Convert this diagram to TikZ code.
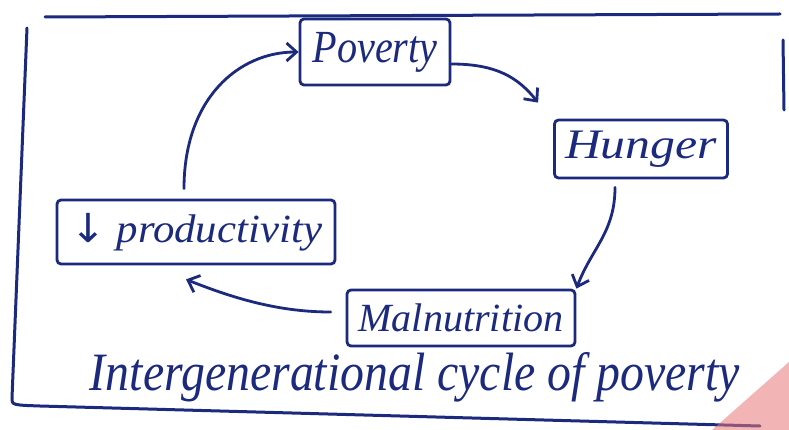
\documentclass[tikz,border=0pt]{standalone}
\usepackage{fontspec}
\usepackage{graphicx}
\setmainfont{Liberation Serif}
\newfontfamily\arrowfont{DejaVu Sans}
\usetikzlibrary{arrows.meta,calc}
\definecolor{ink}{RGB}{28,42,125}
\definecolor{cornerred}{RGB}{232,120,120}
% stretch a label to a given width, keeping its height
\newcommand{\inkw}[3]{\resizebox{#1}{\height}{\fontsize{#2}{#2}\selectfont\itshape #3}}
\tikzset{
  stage/.style={draw=ink, line width=2.8pt, rounded corners=4pt, inner sep=0pt, text=ink},
  flow/.style={draw=ink, line width=2.8pt, line cap=round, -{Straight Barb[length=10pt,width=18pt,line width=2.8pt]}},
  frame/.style={draw=ink, line width=3pt, line cap=round}
}
\begin{document}
\begin{tikzpicture}[x=1pt,y=-1pt]
\useasboundingbox (0,0) rectangle (789,430);
\fill[white] (0,0) rectangle (789,430);

% outer frame
\draw[frame] (45,17) -- (780,14);
\draw[frame] (27,28) .. controls (20,200) .. (12,398) .. controls (12,405) .. (40,406) -- (760,426);
\draw[frame] (783,40) -- (784,110);

% stages of the cycle
\node[stage, minimum width=150pt, minimum height=66pt] (pov) at (375,52)
  {\inkw{125pt}{46}{Poverty}};
\node[stage, minimum width=173pt, minimum height=58pt] (hun) at (641,149)
  {\inkw{152pt}{42}{Hunger}};
\node[stage, minimum width=228pt, minimum height=56pt] (mal) at (461,318)
  {\inkw{205pt}{40}{Malnutrition}};
\node[stage, minimum width=278pt, minimum height=64pt] (prod) at (196,232)
  {\inkw{252pt}{40}{{\upshape\arrowfont ↓} productivity}};

% title
\node[text=ink, anchor=base] (title) at (415,390)
  {\inkw{650pt}{54}{Intergenerational cycle of poverty}};

% connectors
\draw[flow] ($(pov.east)+(0,12)$) .. controls +(45,0) and +(-20,-25) .. ($(hun.north west)+(-15,-16)$);
\draw[flow] ($(hun.south)+(-26,8)$) .. controls +(0,45) and +(15,-40) .. (mal.north east);
\draw[flow] ($(mal.west)+(-15,-6)$) .. controls +(-50,0) and +(50,20) .. ($(prod.south)+(-10,14)$);
\draw[flow] ($(prod.north)+(-12,-10)$) .. controls +(0,-90) and +(-60,0) .. (pov.west);

% corner mark
\fill[cornerred, opacity=0.55] (712,430) -- (789,362) -- (789,430) -- cycle;
\end{tikzpicture}
\end{document}
